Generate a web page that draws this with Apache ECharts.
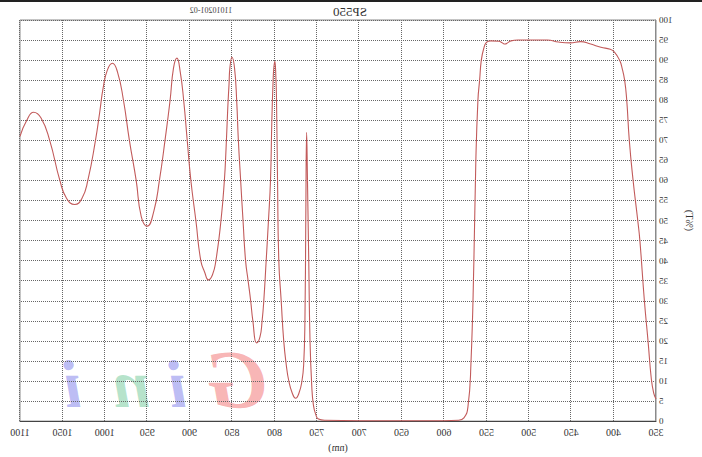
<!DOCTYPE html>
<html><head><meta charset="utf-8">
<script src="https://cdn.jsdelivr.net/npm/echarts@6/dist/echarts.min.js"></script>
<style>
html,body{margin:0;padding:0;background:#fff;}
#c{width:702px;height:457px;transform:scaleX(-1);}
</style></head><body><div id="c"></div>
<script>
// Reference image is a mirrored scan; the chart is drawn normally and mirrored via CSS.
const chartTitle = 'SP550';
const chartSubtitle = '11010201-02';
const xAxisName = '(nm)';
const yAxisName = '(%T)';
const xTickLabels = [350,400,450,500,550,600,650,700,750,800,850,900,950,1000,1050,1100];
const yTickLabels = [0,5,10,15,20,25,30,35,40,45,50,55,60,65,70,75,80,85,90,95,100];
const watermarkLetters = ['G','i','n','i'];

const wavelength = [
  350,352.7,355.5,359.4,363.7,369,371.5,377,381.5,384.5,387,390,393,399,404,415,427,439,451,465,
  478,490,505,513,521,525,528,532,535,545,550,553,556,558,560,562.5,564.8,568.2,571.8,576.5,
  583,600,650,700,740,748,751,754,756,758,759.5,761,762,763,764,765.5,767.5,771,775,779,
  783,786,789,792,794.8,796.3,797.5,798.3,799.5,800.7,801.5,803,804.6,807,809.7,812.5,814.5,817,821,825.4,
  828,831,834,837,839.8,842.5,844.5,847,850,852.5,853.5,855,857,859,863,869,873,878,882,886.8,
  892.6,898.5,902.8,907,911,915,919,923,929,935.6,942,950,957,963,971,978,985,991,997,1002,
  1006,1011,1020,1027,1035.5,1045,1053,1065,1075,1084,1092,1100
];
const transmission = [
  5.5,7,10.5,20,30,45,50,60,70,80,85,88,90,92,92.7,93.2,94.0,94.6,94.3,94.5,
  95,95,95,95,94.8,94.3,94,94.4,94.7,94.8,94.4,93,90,85,80,64.5,39.5,14.5,3.5,0.8,
  0.2,0.1,0.1,0.1,0.2,0.5,1.5,4,9,20,40,60,72,50,25,14,10,7,5.7,7,
  10,14,20,30,40,60,80,86,89.7,88,85,75,60,50,40,30,25,21,19.5,25,
  30,35,40,50,60,70,80,88,90.7,88,84,78,68,60,50,40,36.5,35.2,37,40,
  50,60,70,80,87,90.5,88,80,70,60,52.5,48.6,51,60,70,80,87,89.2,87.5,83,
  77,70,60,55.5,54,55.5,60,70,75.5,77,75,71
];

const seriesData = wavelength.map((w, i) => [w, transmission[i]]);
const serif = 'Liberation Serif';

const chart = echarts.init(document.getElementById('c'), null, {renderer: 'svg'});
chart.setOption({
  animation: false,
  backgroundColor: '#fff',
  title: [
    {text: chartTitle, left: 347, top: 0, textAlign: 'center',
     textStyle: {fontFamily: serif, fontSize: 13, fontWeight: 'normal', color: '#333'}},
    {text: chartSubtitle, left: 486, top: 1, textAlign: 'center',
     textStyle: {fontFamily: serif, fontSize: 8, fontWeight: 'normal', color: '#444'}}
  ],
  grid: {left: 43, right: 20, top: 20, bottom: 35, show: true, borderColor: '#8a8a8a', borderWidth: 1},
  xAxis: {
    type: 'value',
    min: xTickLabels[0], max: xTickLabels[xTickLabels.length - 1],
    interval: xTickLabels[1] - xTickLabels[0],
    name: xAxisName, nameLocation: 'middle', nameGap: 19,
    nameTextStyle: {fontFamily: serif, fontSize: 10, color: '#333'},
    axisLine: {lineStyle: {color: '#444', width: 1}},
    axisTick: {show: false},
    axisLabel: {fontFamily: serif, fontSize: 10, color: '#333', margin: 6,
      formatter: v => String(v)},
    splitLine: {show: true, lineStyle: {type: 'dotted', color: '#666', width: 1}}
  },
  yAxis: {
    type: 'value',
    min: yTickLabels[0], max: yTickLabels[yTickLabels.length - 1],
    interval: yTickLabels[1] - yTickLabels[0],
    name: yAxisName, nameLocation: 'middle', nameGap: 28, nameRotate: 90,
    nameTextStyle: {fontFamily: serif, fontSize: 10, color: '#333'},
    axisLine: {show: true, lineStyle: {color: '#8a8a8a', width: 1}},
    axisTick: {show: false},
    axisLabel: {fontFamily: serif, fontSize: 9, color: '#333', margin: 3,
      formatter: v => String(v)},
    splitLine: {show: true, lineStyle: {type: 'dotted', color: '#666', width: 1}}
  },
  graphic: [
    {type: 'rect', left: 0, top: 0, shape: {width: 702, height: 2}, style: {fill: '#222'}, silent: true},
    {type: 'text', left: 435, top: 338, z: -10, silent: true,
     style: {text: watermarkLetters[0], fill: 'rgba(245,150,150,0.7)', font: 'italic bold 82px "Liberation Serif"'}},
    {type: 'text', left: 515, top: 350, z: -10, silent: true,
     style: {text: watermarkLetters[1], fill: 'rgba(160,160,240,0.7)', font: 'italic bold 68px "Liberation Serif"'}},
    {type: 'text', left: 552, top: 350, z: -10, silent: true,
     style: {text: watermarkLetters[2], fill: 'rgba(150,215,180,0.7)', font: 'italic bold 68px "Liberation Serif"'}},
    {type: 'text', left: 620, top: 350, z: -10, silent: true,
     style: {text: watermarkLetters[3], fill: 'rgba(160,160,240,0.7)', font: 'italic bold 68px "Liberation Serif"'}}
  ],
  series: [{
    type: 'line',
    data: seriesData,
    showSymbol: false,
    smooth: 0.5,
    lineStyle: {color: '#c25b5b', width: 1.1},
    z: 5
  }]
});
</script>
</body></html>
